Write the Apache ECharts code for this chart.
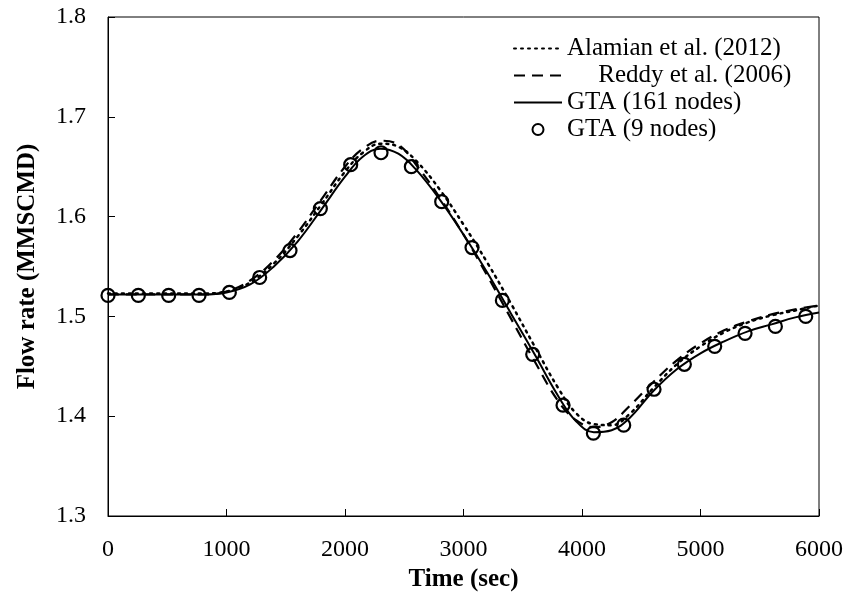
<!DOCTYPE html>
<html>
<head>
<meta charset="utf-8">
<script src="https://cdn.jsdelivr.net/npm/echarts@6/dist/echarts.min.js"></script>
<style>html,body{margin:0;padding:0;background:#fff;}#c{width:844px;height:595px;}</style>
</head>
<body>
<div id="c"></div>
<script>
// Curve sample times (sec)
const curveTimes = [0, 500, 800, 1000, 1200, 1400, 1600, 1800, 2000, 2150, 2300, 2450, 2600, 2800, 3000, 3200, 3400, 3600, 3800, 3950, 4100, 4250, 4400, 4600, 4800, 5000, 5200, 5400, 5600, 5800, 6000];
// Alamian et al. (2012) - dotted
const alamian = [1.523, 1.523, 1.523, 1.525, 1.534, 1.553, 1.580, 1.612, 1.645, 1.664, 1.673, 1.670, 1.656, 1.627, 1.592, 1.554, 1.513, 1.470, 1.428, 1.403, 1.392, 1.391, 1.402, 1.428, 1.452, 1.470, 1.484, 1.494, 1.501, 1.506, 1.511];
// Reddy et al. (2006) - dashed
const reddy = [1.522, 1.522, 1.522, 1.525, 1.536, 1.556, 1.584, 1.617, 1.650, 1.668, 1.676, 1.672, 1.652, 1.619, 1.582, 1.541, 1.498, 1.455, 1.415, 1.396, 1.389, 1.394, 1.410, 1.434, 1.456, 1.473, 1.486, 1.495, 1.502, 1.507, 1.511];
// GTA (161 nodes) - solid
const gta161 = [1.522, 1.522, 1.522, 1.524, 1.532, 1.550, 1.575, 1.607, 1.640, 1.660, 1.668, 1.663, 1.647, 1.617, 1.582, 1.544, 1.503, 1.462, 1.420, 1.395, 1.384, 1.386, 1.398, 1.425, 1.447, 1.463, 1.475, 1.485, 1.492, 1.499, 1.504];
// GTA (9 nodes) - circles
const circleTimes = [0, 256, 512, 768, 1024, 1280, 1536, 1792, 2048, 2304, 2560, 2816, 3072, 3328, 3584, 3840, 4096, 4352, 4608, 4864, 5120, 5376, 5632, 5888];
const gta9 = [1.521, 1.521, 1.521, 1.521, 1.524, 1.539, 1.566, 1.608, 1.652, 1.664, 1.650, 1.615, 1.569, 1.516, 1.462, 1.411, 1.383, 1.391, 1.427, 1.452, 1.470, 1.483, 1.490, 1.500];

const xTicks = [0, 1000, 2000, 3000, 4000, 5000, 6000];
const yTicks = [1.3, 1.4, 1.5, 1.6, 1.7, 1.8];

const names = ['Alamian et al. (2012)', 'Reddy et al. (2006)', 'GTA (161 nodes)', 'GTA (9 nodes)'];

function pairs(xs, ys) { return xs.map((x, i) => [x, ys[i]]); }

const FONT = 'Liberation Serif';
const chart = echarts.init(document.getElementById('c'), null, {renderer: 'canvas'});
chart.setOption({
  animation: false,
  backgroundColor: '#fff',
  grid: {left: 108, right: 25, top: 17, bottom: 79, containLabel: false, outerBoundsMode: 'none',
         show: true, borderColor: '#000', borderWidth: 1, backgroundColor: 'transparent'},
  legend: {
    orient: 'vertical', left: 508, top: 31,
    itemWidth: 48, itemHeight: 11, itemGap: 2,
    data: [
      {name: names[0], itemStyle: {opacity: 0}},
      {name: names[1], itemStyle: {opacity: 0}},
      {name: names[2], itemStyle: {opacity: 0}},
      {name: names[3]}
    ],
    textStyle: {fontFamily: FONT, fontSize: 25, color: '#000'},
    formatter: function (n) { return n === names[1] ? '     ' + n : n; },
    inactiveColor: '#000'
  },
  xAxis: {
    type: 'value', min: xTicks[0], max: xTicks[xTicks.length - 1], interval: 1000,
    name: 'Time (sec)', nameLocation: 'middle', nameGap: 48,
    nameTextStyle: {fontFamily: FONT, fontSize: 25, fontWeight: 'bold', color: '#000'},
    axisLine: {show: true, lineStyle: {color: '#000', width: 1}},
    axisTick: {show: true, inside: true, length: 7, lineStyle: {color: '#000'}},
    axisLabel: {fontFamily: FONT, fontSize: 24, color: '#000', margin: 22, formatter: v => String(v)},
    splitLine: {show: false}
  },
  yAxis: {
    type: 'value', min: yTicks[0], max: yTicks[yTicks.length - 1], interval: 0.1,
    name: 'Flow rate (MMSCMD)', nameLocation: 'middle', nameGap: 68,
    nameTextStyle: {fontFamily: FONT, fontSize: 25, fontWeight: 'bold', color: '#000'},
    axisLine: {show: true, lineStyle: {color: '#000', width: 1}},
    axisTick: {show: true, inside: true, length: 7, lineStyle: {color: '#000'}},
    axisLabel: {fontFamily: FONT, fontSize: 24, color: '#000', margin: 22, formatter: v => v.toFixed(1)},
    splitLine: {show: false}
  },
  series: [
    {name: names[0], type: 'line', smooth: 0.4, symbol: 'none', data: pairs(curveTimes, alamian),
     lineStyle: {color: '#000', width: 2.5, type: [2, 5], cap: 'round'}, itemStyle: {color: '#000'}, z: 3},
    {name: names[1], type: 'line', smooth: 0.4, symbol: 'none', data: pairs(curveTimes, reddy),
     lineStyle: {color: '#000', width: 2.2, type: [11, 7]}, itemStyle: {color: '#000'}, z: 3},
    {name: names[2], type: 'line', smooth: 0.4, symbol: 'none', data: pairs(curveTimes, gta161),
     lineStyle: {color: '#000', width: 2, type: 'solid'}, itemStyle: {color: '#000'}, z: 4},
    {name: names[3], type: 'scatter', symbol: 'circle', symbolSize: 13, data: pairs(circleTimes, gta9),
     itemStyle: {color: 'rgba(255,255,255,0)', borderColor: '#000', borderWidth: 2.2, opacity: 1}, z: 5}
  ]
});
</script>
</body>
</html>
